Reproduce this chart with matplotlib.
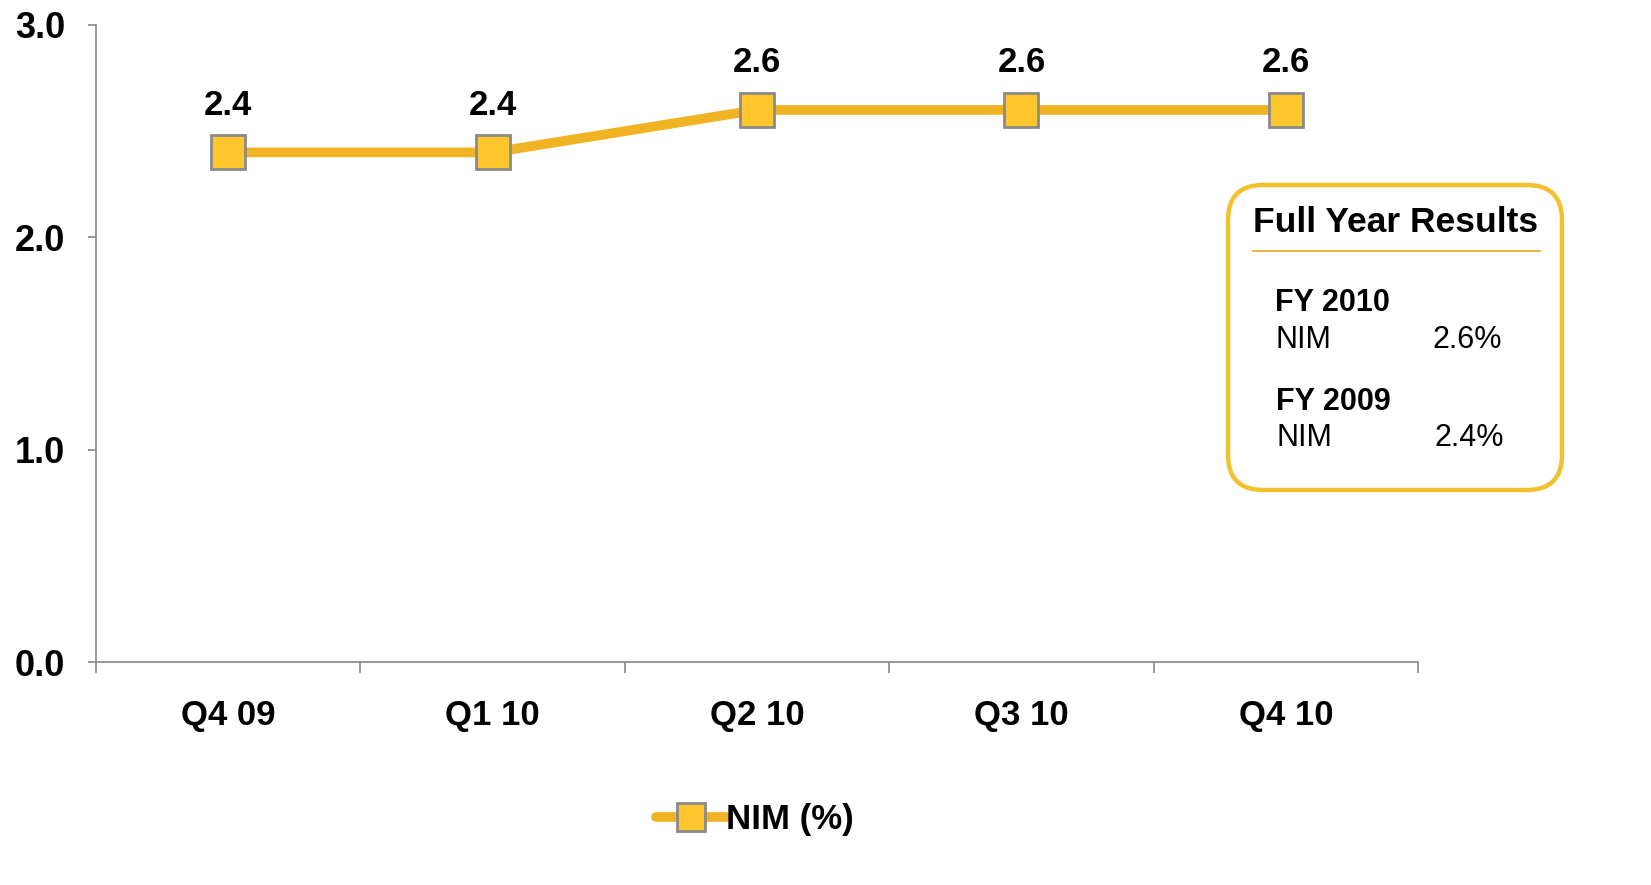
import matplotlib.pyplot as plt
from matplotlib.patches import FancyBboxPatch
from matplotlib.lines import Line2D
from matplotlib.transforms import IdentityTransform

plt.rcParams['font.family'] = ['Liberation Sans', 'DejaVu Sans']

quarters = ['Q4 09', 'Q1 10', 'Q2 10', 'Q3 10', 'Q4 10']
nim = [2.4, 2.4, 2.6, 2.6, 2.6]
y_ticks = [0.0, 1.0, 2.0, 3.0]

line_col = '#F0B323'
face_col = '#FFC72C'
edge_col = '#8A8A8A'

W, H = 1651, 885
fig = plt.figure(figsize=(W / 100, H / 100), dpi=100)
ax = fig.add_axes([96 / W, 1 - 662 / H, (1418 - 96) / W, (662 - 25) / H])

x = list(range(len(quarters)))
ax.plot(x, nim, color=line_col, lw=7, marker='s', ms=25,
        mfc=face_col, mec=edge_col, mew=2, solid_capstyle='round', zorder=3)
for xi, v in zip(x, nim):
    ax.annotate(f'{v:.1f}', (xi, v), xytext=(0, 22), textcoords='offset points',
                ha='center', va='bottom', fontsize=25, fontweight='bold')

ax.set_xlim(-0.5, len(quarters) - 0.5)
ax.set_ylim(0, 3.0)
ax.set_yticks(y_ticks)
ax.set_yticklabels([f'{t:.1f}' for t in y_ticks], fontsize=26, fontweight='bold')
ax.set_xticks([i - 0.5 for i in range(len(quarters) + 1)])
ax.set_xticklabels([])
ax.set_xticks(x, minor=True)
ax.set_xticklabels(quarters, minor=True, fontsize=25, fontweight='bold')
ax.tick_params(axis='x', which='minor', length=0, pad=27)
ax.tick_params(axis='x', which='major', length=8, color='#888888', width=1.2, direction='out')
ax.tick_params(axis='y', length=6, color='#888888', width=1.2, direction='out', pad=16)
for s in ['top', 'right']:
    ax.spines[s].set_visible(False)
for s in ['left', 'bottom']:
    ax.spines[s].set_color('#888888')
    ax.spines[s].set_linewidth(1.2)

# legend
handle = Line2D([0], [0], color=line_col, lw=7, marker='s', ms=20,
                mfc=face_col, mec=edge_col, mew=2, solid_capstyle='round')
fig.legend([handle], ['NIM (%)'], loc='center', bbox_to_anchor=(755 / W, 1 - 820 / H),
           frameon=False, prop={'size': 25, 'weight': 'bold'},
           handlelength=2.0, handletextpad=0.0)

# full year results box (pixel coords, origin bottom-left)
def py(y):
    return H - y

box = FancyBboxPatch((1228 + 35, py(490) + 35), (1562 - 1228) - 70, (490 - 185) - 70,
                     boxstyle='round,pad=35', transform=IdentityTransform(),
                     fc='white', ec='#F2C12E', lw=3.2)
fig.patches.append(box)
fig.add_artist(Line2D([1253 / W, 1540 / W], [1 - 251 / H, 1 - 251 / H],
                      color='#F0A830', lw=1.3, transform=fig.transFigure))
fig.text(1253 / W, 1 - 222 / H, 'Full Year Results', fontsize=25.5, fontweight='bold', va='center')
fig.text(1275 / W, 1 - 303 / H, 'FY 2010', fontsize=22, fontweight='bold', va='center')
fig.text(1275 / W, 1 - 340 / H, 'NIM', fontsize=22, va='center')
fig.text(1432 / W, 1 - 340 / H, '2.6%', fontsize=22, va='center')
fig.text(1276 / W, 1 - 402 / H, 'FY 2009', fontsize=22, fontweight='bold', va='center')
fig.text(1276 / W, 1 - 438 / H, 'NIM', fontsize=22, va='center')
fig.text(1434 / W, 1 - 438 / H, '2.4%', fontsize=22, va='center')

fig.savefig('out.png', dpi=100)
